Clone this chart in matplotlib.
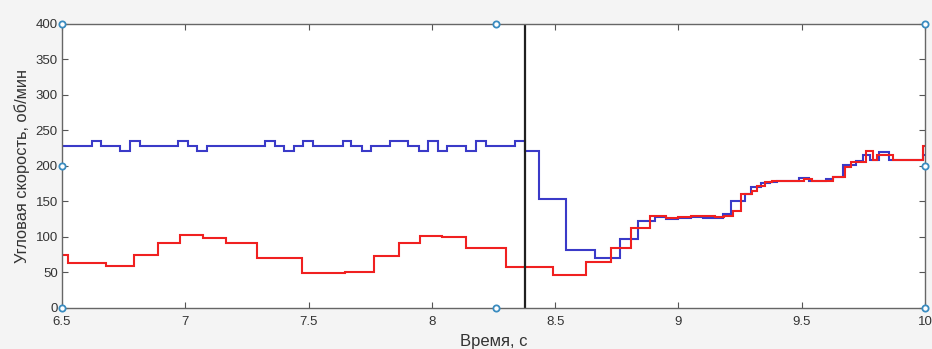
import matplotlib.pyplot as plt

plt.rcParams['font.family'] = ['Liberation Sans', 'DejaVu Sans']

# blue signal: step start times and values
blue_t = [6.50, 6.62, 6.66, 6.735, 6.776, 6.816, 6.971, 7.012, 7.048, 7.089,
          7.323, 7.363, 7.40, 7.44, 7.478, 7.519, 7.638, 7.674, 7.715, 7.752,
          7.83, 7.904, 7.947, 7.985, 8.025, 8.063, 8.14, 8.18, 8.22, 8.336,
          8.377, 8.435, 8.546, 8.663, 8.762, 8.836, 8.904, 8.95, 9.0, 9.05,
          9.10, 9.18, 9.214, 9.268, 9.295, 9.336, 9.37, 9.40, 9.49, 9.53,
          9.60, 9.627, 9.667, 9.72, 9.75, 9.775, 9.815, 9.855, 9.99, 10.0]
blue_v = [228, 235, 228, 221, 235, 228, 235, 228, 221, 228,
          235, 228, 221, 228, 235, 228, 235, 228, 221, 228,
          235, 228, 221, 235, 221, 228, 221, 235, 228, 235,
          221, 153, 81, 70, 97, 123, 128, 126, 127, 128,
          127, 132, 150, 161, 170, 176, 178, 179, 183, 179,
          182, 185, 201, 207, 215, 209, 220, 209, 215]

# red signal
red_t = [6.50, 6.526, 6.678, 6.793, 6.888, 6.978, 7.07, 7.165, 7.292, 7.474,
         7.647, 7.765, 7.866, 7.951, 8.04, 8.14, 8.299, 8.491, 8.627, 8.728,
         8.809, 8.883, 8.95, 9.0, 9.05, 9.10, 9.15, 9.185, 9.22, 9.253,
         9.30, 9.32, 9.35, 9.38, 9.51, 9.54, 9.627, 9.674, 9.701, 9.76,
         9.79, 9.805, 9.87, 9.99, 10.0]
red_v = [74, 63, 59, 75, 91, 103, 98, 91, 71, 49,
         51, 73, 92, 101, 100, 84, 58, 47, 65, 84,
         112, 129, 127, 128, 129, 129, 128, 130, 136, 160,
         165, 172, 177, 179, 181, 179, 185, 199, 205, 221,
         209, 215, 209, 228]

event_t = 8.377
cursor_x = [6.5, 6.5, 6.5, 8.262, 8.262, 10, 10, 10]
cursor_y = [0, 200, 400, 0, 400, 0, 200, 400]

xticks = [6.5, 7, 7.5, 8, 8.5, 9, 9.5, 10]
xlabels = ["6.5", "7", "7.5", "8", "8.5", "9", "9.5", "10"]
yticks = [0, 50, 100, 150, 200, 250, 300, 350, 400]

fig = plt.figure(figsize=(9.32, 3.49), dpi=100, facecolor="#f4f4f4")
ax = fig.add_axes([0.0665, 0.1175, 0.926, 0.8138])
ax.set_facecolor("white")

ax.stairs(blue_v, blue_t, baseline=None, color="#3a3ac8", linewidth=1.5)
ax.stairs(red_v, red_t, baseline=None, color="#f02020", linewidth=1.5)
ax.axvline(event_t, color="#202020", linewidth=1.6)
ax.plot(cursor_x, cursor_y, linestyle="none", marker="o", markersize=4.5,
        markerfacecolor="white", markeredgecolor="#3a8cc0", markeredgewidth=1.3,
        clip_on=False, zorder=5)

ax.set_xlim(6.5, 10)
ax.set_ylim(0, 400)
ax.set_xticks(xticks)
ax.set_xticklabels(xlabels)
ax.set_yticks(yticks)
ax.tick_params(direction="in", length=4, width=0.8, top=True, right=True,
               colors="#555555", labelcolor="#333333", labelsize=9.5)
ax.tick_params(axis="x", pad=6)
ax.tick_params(axis="y", pad=3)
for s in ax.spines.values():
    s.set_color("#666666")
    s.set_linewidth(1.0)

ax.set_xlabel("Время, с", fontsize=12, color="#333333", labelpad=4)
ax.set_ylabel("Угловая скорость, об/мин", fontsize=11.8, color="#333333", labelpad=4)

plt.savefig("out.png", dpi=100, facecolor=fig.get_facecolor())
